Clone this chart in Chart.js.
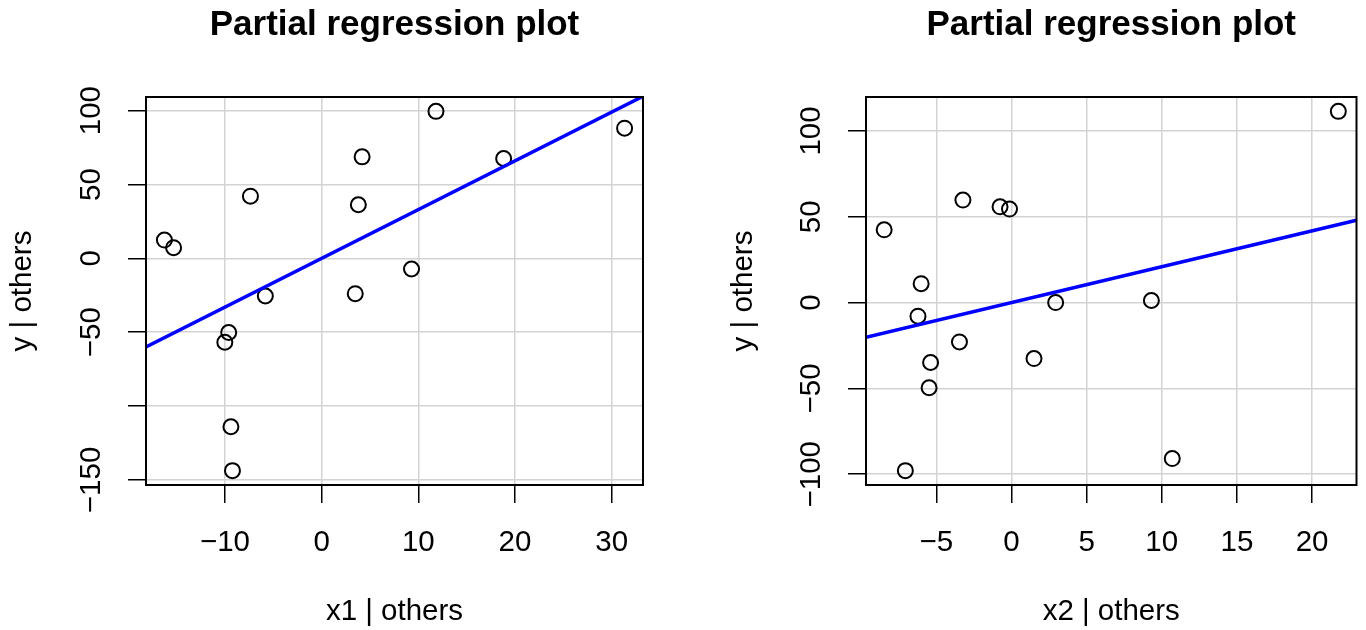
<!DOCTYPE html>
<html>
<head>
<meta charset="utf-8">
<script src="https://cdn.jsdelivr.net/npm/chart.js@4.4.1/dist/chart.umd.min.js"></script>
<style>
  html, body { margin: 0; padding: 0; background: #fff; }
  .panel { position: absolute; top: 0; width: 683px; height: 630px; }
</style>
</head>
<body>
<div class="panel" style="left:0"><canvas id="left" width="683" height="630"></canvas></div>
<div class="panel" style="left:683px"><canvas id="right" width="683" height="630"></canvas></div>
<script>
// residuals
const x1Resid = [-16.26, -15.31, -7.36, -5.82, -9.61, -10.01, -9.38, -9.22, 3.80, 4.19, 3.48, 9.30, 11.83, 18.83, 31.34];
const y1Resid = [12.4, 7.2, 42.1, -25.5, -50.2, -56.8, -114.0, -143.7, 36.3, 68.7, -23.9, -7.2, 99.5, 67.6, 88.1];
const x2Resid = [-8.47, -6.01, -6.22, -3.23, -0.76, -0.13, -3.46, -5.38, -5.48, -7.06, 2.94, 1.50, 9.31, 10.70, 21.75];
const y2Resid = [42.4, 11.0, -7.9, 59.7, 55.8, 54.5, -22.9, -34.9, -49.6, -97.9, 0.0, -32.6, 1.2, -90.9, 111.4];

const slope1 = 3.30;
const slope2 = 2.09;

const x1Ticks = [-10, 0, 10, 20, 30];
const x1TickLabels = ['\u221210', '0', '10', '20', '30'];
const y1Ticks = [-150, -100, -50, 0, 50, 100];
const y1TickLabels = ['\u2212150', '', '\u221250', '0', '50', '100'];
const x2Ticks = [-5, 0, 5, 10, 15, 20];
const x2TickLabels = ['\u22125', '0', '5', '10', '15', '20'];
const y2Ticks = [-100, -50, 0, 50, 100];
const y2TickLabels = ['\u2212100', '\u221250', '0', '50', '100'];

const FONT = '"Liberation Sans", Arial, Helvetica, sans-serif';
Chart.defaults.font.family = FONT;
Chart.defaults.color = '#000';

// R style axis limits: data range plus 4% each side
function rLimits(v) {
  const lo = Math.min(...v), hi = Math.max(...v);
  const d = (hi - lo) * 0.04;
  return [lo - d, hi + d];
}

const plotBox = {
  id: 'plotBox',
  afterDraw(chart) {
    const { ctx, chartArea: a } = chart;
    ctx.save();
    ctx.strokeStyle = '#000';
    ctx.lineWidth = 2;
    ctx.strokeRect(a.left, a.top, a.right - a.left, a.bottom - a.top);
    ctx.restore();
  }
};

function panel(id, cfg) {
  const [xmin, xmax] = rLimits(cfg.x);
  const [ymin, ymax] = rLimits(cfg.y);
  const pts = cfg.x.map((x, i) => ({ x: x, y: cfg.y[i] }));

  return new Chart(document.getElementById(id), {
    type: 'scatter',
    data: {
      datasets: [
        {
          data: [{ x: xmin, y: cfg.slope * xmin }, { x: xmax, y: cfg.slope * xmax }],
          showLine: true,
          borderColor: '#0000ff',
          borderWidth: 3.5,
          pointRadius: 0,
          fill: false
        },
        {
          data: pts,
          pointStyle: 'circle',
          pointRadius: 7.5,
          pointBorderWidth: 2,
          pointBorderColor: '#000',
          pointBackgroundColor: 'rgba(0,0,0,0)'
        }
      ]
    },
    options: {
      responsive: false,
      animation: false,
      devicePixelRatio: 1,
      layout: { padding: { left: 0, right: cfg.padRight, top: 0, bottom: 0 } },
      plugins: {
        legend: { display: false },
        tooltip: { enabled: false },
        title: {
          display: true,
          fullSize: false,
          text: 'Partial regression plot',
          color: '#000',
          font: { size: 35, weight: 'bold', lineHeight: 1.2 },
          padding: { top: 4, bottom: 51 }
        }
      },
      scales: {
        x: {
          type: 'linear',
          min: xmin,
          max: xmax,
          afterBuildTicks: s => { s.ticks = cfg.xTicks.map(v => ({ value: v })); },
          afterFit: s => { s.height = 145; },
          border: { display: false },
          grid: { color: '#d3d3d3', lineWidth: 1.5, tickColor: '#000', tickWidth: 1.5, tickLength: 18 },
          ticks: {
            autoSkip: false, maxRotation: 0, padding: 22,
            font: { size: 29.5 }, color: '#000',
            callback: (v, i) => cfg.xLabels[i]
          },
          title: { display: true, text: cfg.xTitle, color: '#000', font: { size: 29.5, lineHeight: 1.2 }, padding: { top: 0, bottom: 0 } }
        },
        y: {
          type: 'linear',
          position: 'left',
          min: ymin,
          max: ymax,
          afterBuildTicks: s => { s.ticks = cfg.yTicks.map(v => ({ value: v })); },
          afterFit: s => { s.width = cfg.yWidth; },
          border: { display: false },
          grid: { color: '#d3d3d3', lineWidth: 1.5, tickColor: '#000', tickWidth: 1.5, tickLength: 18 },
          ticks: {
            autoSkip: false, minRotation: 90, maxRotation: 90, crossAlign: 'center', padding: 3,
            font: { size: 29.5 }, color: '#000',
            callback: (v, i) => cfg.yLabels[i]
          },
          title: { display: true, text: 'y | others', color: '#000', font: { size: 29.5, lineHeight: 1.2 }, padding: { top: cfg.yTitlePad, bottom: 0 } }
        }
      }
    },
    plugins: [plotBox]
  });
}

panel('left', {
  x: x1Resid, y: y1Resid, slope: slope1,
  xTicks: x1Ticks, xLabels: x1TickLabels, yTicks: y1Ticks, yLabels: y1TickLabels,
  xTitle: 'x1 | others', yWidth: 146, padRight: 40, yTitlePad: 5
});

panel('right', {
  x: x2Resid, y: y2Resid, slope: slope2,
  xTicks: x2Ticks, xLabels: x2TickLabels, yTicks: y2Ticks, yLabels: y2TickLabels,
  xTitle: 'x2 | others', yWidth: 183, padRight: 4, yTitlePad: 43
});
</script>
</body>
</html>
